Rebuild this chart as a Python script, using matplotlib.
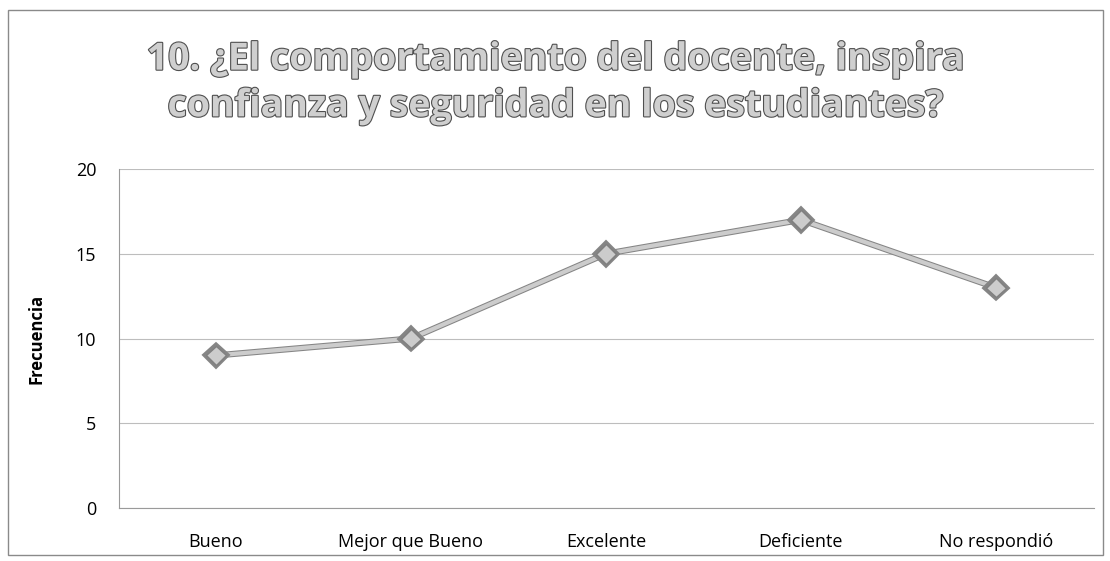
import matplotlib.pyplot as plt
import matplotlib.patheffects as pe
from matplotlib.patches import Rectangle

categorias = ["Bueno", "Mejor que Bueno", "Excelente", "Deficiente", "No respondió"]
frecuencia = [9, 10, 15, 17, 13]
y_ticks = [0, 5, 10, 15, 20]

plt.rcParams['font.family'] = ['Open Sans', 'DejaVu Sans']

fig = plt.figure(figsize=(11.1, 5.61), dpi=100)
ax = fig.add_axes([118.5 / 1110, 1 - 508 / 561, 975 / 1110, 339 / 561])

x = list(range(len(categorias)))
ax.plot(x, frecuencia, color='#cccccc', lw=3, marker='D', ms=10,
        mfc='#cccccc', mec='#808080', mew=1,
        path_effects=[pe.Stroke(linewidth=4.5, foreground='#858585'), pe.Normal()])

ax.set_xlim(-0.5, len(categorias) - 0.5)
ax.set_ylim(0, 20)
ax.set_yticks(y_ticks)
ax.set_xticks(x)
ax.set_xticklabels(categorias, fontsize=13)
ax.tick_params(axis='y', labelsize=13, length=0, pad=16)
ax.tick_params(axis='x', length=0, pad=18)
ax.yaxis.grid(True, color='#bdbdbd', lw=0.8)
ax.set_axisbelow(True)
for s in ['top', 'right']:
    ax.spines[s].set_visible(False)
for s in ['left', 'bottom']:
    ax.spines[s].set_color('#9a9a9a')
    ax.spines[s].set_linewidth(0.8)

ax.set_ylabel('Frecuencia', fontsize=12, fontweight='bold', labelpad=22)

fig.text(0.5, 1 - 83 / 561, '10. ¿El comportamiento del docente, inspira\nconfianza y seguridad en los estudiantes?',
         ha='center', va='center', fontsize=27, fontweight='bold', color='#cfcfcf',
         linespacing=1.3,
         path_effects=[pe.withStroke(linewidth=1.6, foreground='#505050')])

fig.patches.append(Rectangle((8 / 1110, 1 - 555 / 561), 1095 / 1110, 545 / 561,
                             transform=fig.transFigure, fill=False, ec='#8a8a8a', lw=1))

fig.savefig('out.png', dpi=100)
